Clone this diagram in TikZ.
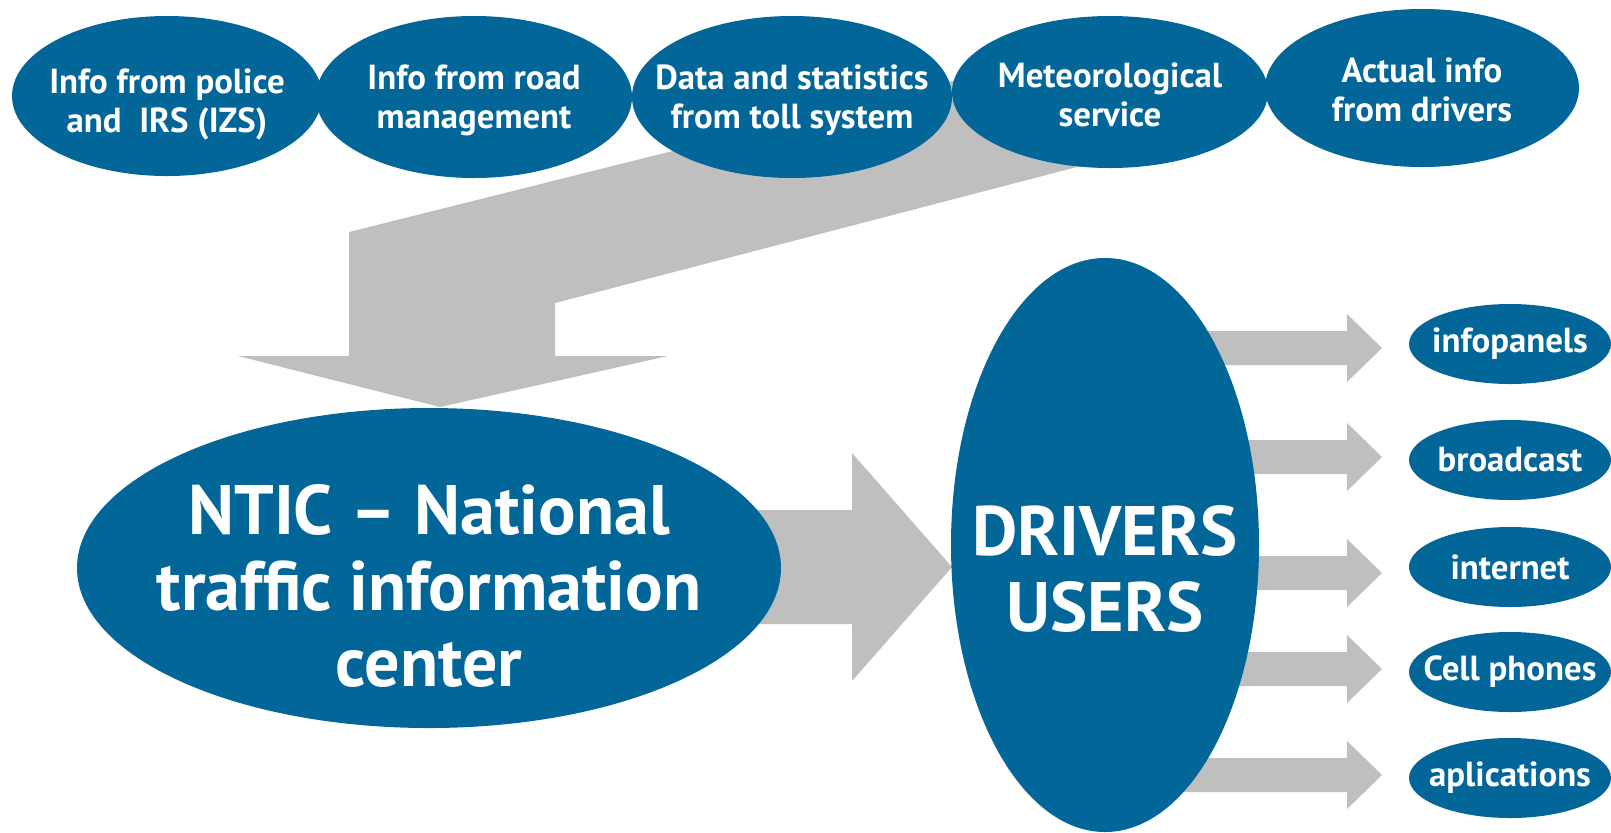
\documentclass[tikz,border=0pt]{standalone}
\usepackage{fontspec}
\setmainfont{PT Sans}
\usetikzlibrary{shapes.geometric}
\definecolor{azul}{RGB}{2,102,153}
\definecolor{cinza}{RGB}{191,191,191}
\tikzset{
  oval/.style={ellipse, fill=azul, inner sep=0pt},
  txt/.style={text=white, align=center, font=\bfseries\fontsize{17.4}{19.5}\selectfont},
  txtgrande/.style={text=white, align=center, font=\bfseries\fontsize{35}{38}\selectfont}
}

\begin{document}
\begin{tikzpicture}[x=0.5pt, y=-0.5pt]
\useasboundingbox (0,0) rectangle (1611,832);

%seta dobrada (fontes -> NTIC)
\fill[cinza] (1000,69) -- (349,232) -- (349,356) -- (238,356) -- (440,407)
  -- (668,356) -- (555,356) -- (555,303) -- (1100,161) -- cycle;

%seta NTIC -> drivers
\fill[cinza] (700,510) -- (852,510) -- (852,453) -- (952,567) -- (852,681)
  -- (852,624) -- (700,624) -- cycle;

%setas pequenas
\foreach \yy in {348,457,573,669,775}
  \fill[cinza] (1150,\yy-17) -- (1347,\yy-17) -- (1347,\yy-34) -- (1382,\yy)
    -- (1347,\yy+34) -- (1347,\yy+17) -- (1150,\yy+17) -- cycle;

%fontes de dados
\node[oval, minimum width=155pt, minimum height=80pt] (policia) at (167,96) {};
\node[txt] at ([yshift=-4pt]policia.center) {Info from police\\and\ \ IRS (IZS)};
\node[oval, minimum width=158pt, minimum height=81pt] (estrada) at (474,97) {};
\node[txt] at ([yshift=-1.5pt]estrada.center) {Info from road\\management};
\node[oval, minimum width=160pt, minimum height=81pt] (pedagio) at (792,97) {};
\node[txt] at ([yshift=-1.5pt]pedagio.center) {Data and statistics\\from toll system};
\node[oval, minimum width=158pt, minimum height=76pt] (meteo) at (1110,92) {};
\node[txt] at ([yshift=-1.5pt]meteo.center) {Meteorological\\service};
\node[oval, minimum width=157pt, minimum height=79pt] (motoristas) at (1422,88) {};
\node[txt] at ([yshift=-1pt]motoristas.center) {Actual info\\from drivers};

%centro NTIC
\node[oval, minimum width=352pt, minimum height=160pt] (ntic) at (429,568) {};
\node[txtgrande] at ([yshift=-9pt]ntic.center) {NTIC – National\\traffic information\\center};

%usuarios
\node[oval, minimum width=154pt, minimum height=287pt] (drivers) at (1105,545) {};
\node[txtgrande] at ([yshift=-12pt]drivers.center) {DRIVERS\\USERS};

%canais
\node[oval, minimum width=101pt, minimum height=40pt] (painel) at (1510,344) {};
\node[txt] at (painel) {infopanels};
\node[oval, minimum width=101pt, minimum height=40pt] (radio) at (1510,460) {};
\node[txt] at (radio) {broadcast};
\node[oval, minimum width=101pt, minimum height=40pt] (internet) at (1510,567) {};
\node[txt] at (internet) {internet};
\node[oval, minimum width=101pt, minimum height=40pt] (celular) at (1510,672) {};
\node[txt] at (celular) {Cell phones};
\node[oval, minimum width=101pt, minimum height=40pt] (app) at (1510,778) {};
\node[txt] at (app) {aplications};

\end{tikzpicture}
\end{document}
